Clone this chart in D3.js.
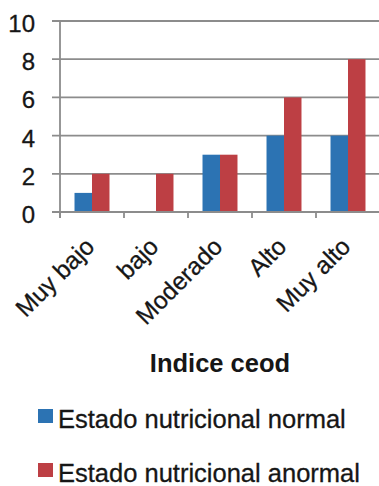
<!DOCTYPE html>
<html>
<head>
<meta charset="utf-8">
<script src="https://cdn.jsdelivr.net/npm/d3@7"></script>
<style>
  html, body { margin: 0; padding: 0; background: #fff; }
  svg { display: block; font-family: "Liberation Sans", Arial, sans-serif; }
</style>
</head>
<body>
<svg id="chart" width="379" height="486"></svg>
<script>
// Data
const categories = ["Muy bajo", "bajo", "Moderado", "Alto", "Muy alto"];
const seriesNames = ["Estado nutricional normal", "Estado nutricional anormal"];
const normalValues = [1, 0, 3, 4, 4];
const anormalValues = [2, 2, 3, 6, 8];
const yTicks = [0, 2, 4, 6, 8, 10];
const colors = ["#2c73b3", "#bd3f44"];
const xTitle = "Indice ceod";

const svg = d3.select("#chart");
const plotLeft = 60, plotTop = 21, plotBottom = 212;
const plotW = 64 * categories.length; // plot runs past the right edge
const gridColor = "#8c8c8c";
const textColor = "#161616";

const x = d3.scaleBand().domain(categories).range([plotLeft, plotLeft + plotW]);
const x1 = d3.scaleBand().domain(seriesNames).range([0, x.bandwidth()]).paddingInner(0).paddingOuter(0.83);
const y = d3.scaleLinear().domain([0, 10]).range([plotBottom, plotTop]);

// Gridlines
svg.append("g")
  .selectAll("line")
  .data(yTicks)
  .join("line")
  .attr("x1", plotLeft - 8)
  .attr("x2", plotLeft + plotW)
  .attr("y1", d => y(d))
  .attr("y2", d => y(d))
  .attr("stroke", gridColor)
  .attr("stroke-width", 1.8);

// Bars
const data = categories.map((c, i) => ({ cat: c, vals: [normalValues[i], anormalValues[i]] }));
svg.append("g")
  .selectAll("g")
  .data(data)
  .join("g")
  .attr("transform", d => `translate(${x(d.cat)},0)`)
  .selectAll("rect")
  .data(d => d.vals.map((v, j) => ({ key: seriesNames[j], v, j })))
  .join("rect")
  .attr("x", d => x1(d.key))
  .attr("width", x1.bandwidth())
  .attr("y", d => y(d.v))
  .attr("height", d => y(0) - y(d.v))
  .attr("fill", d => colors[d.j]);

// Y axis line
svg.append("line")
  .attr("x1", plotLeft).attr("x2", plotLeft)
  .attr("y1", y(10)).attr("y2", y(0) + 6)
  .attr("stroke", gridColor).attr("stroke-width", 1.8);

// X axis line and category boundary ticks
svg.append("line")
  .attr("x1", plotLeft - 8).attr("x2", plotLeft + plotW)
  .attr("y1", y(0)).attr("y2", y(0))
  .attr("stroke", gridColor).attr("stroke-width", 1.8);
svg.append("g")
  .selectAll("line")
  .data(categories.map(c => x(c)).concat([plotLeft + plotW]))
  .join("line")
  .attr("x1", d => d).attr("x2", d => d)
  .attr("y1", y(0)).attr("y2", y(0) + 6)
  .attr("stroke", gridColor).attr("stroke-width", 1.8);

// Y tick labels
svg.append("g")
  .selectAll("text")
  .data(yTicks)
  .join("text")
  .attr("x", 35)
  .attr("y", d => y(d) + 2.5)
  .attr("dy", "0.35em")
  .attr("text-anchor", "end")
  .attr("font-size", 24)
  .attr("fill", textColor)
  .attr("stroke", textColor)
  .attr("stroke-width", 0.3)
  .text(d => d);

// X tick labels, rotated
svg.append("g")
  .selectAll("text")
  .data(categories)
  .join("text")
  .attr("transform", d => `translate(${x(d) + x.bandwidth() / 2 + 4},${y(0) + 36}) rotate(-45)`)
  .attr("text-anchor", "end")
  .attr("font-size", 24.5)
  .attr("fill", textColor)
  .attr("stroke", textColor)
  .attr("stroke-width", 0.3)
  .text(d => d);

// X axis title
svg.append("text")
  .attr("x", 220)
  .attr("y", 372)
  .attr("text-anchor", "middle")
  .attr("font-size", 25.5)
  .attr("font-weight", "bold")
  .attr("fill", textColor)
  .text(xTitle);

// Legend
const legendRows = [409, 463];
const legend = svg.append("g")
  .selectAll("g")
  .data(seriesNames)
  .join("g")
  .attr("transform", (d, i) => `translate(38,${legendRows[i]})`);
legend.append("rect")
  .attr("width", 15).attr("height", 14)
  .attr("fill", (d, i) => colors[i]);
legend.append("text")
  .attr("x", 20)
  .attr("y", 18.5)
  .attr("font-size", 25.5)
  .attr("fill", textColor)
  .attr("stroke", textColor)
  .attr("stroke-width", 0.3)
  .text(d => d);
</script>
</body>
</html>
